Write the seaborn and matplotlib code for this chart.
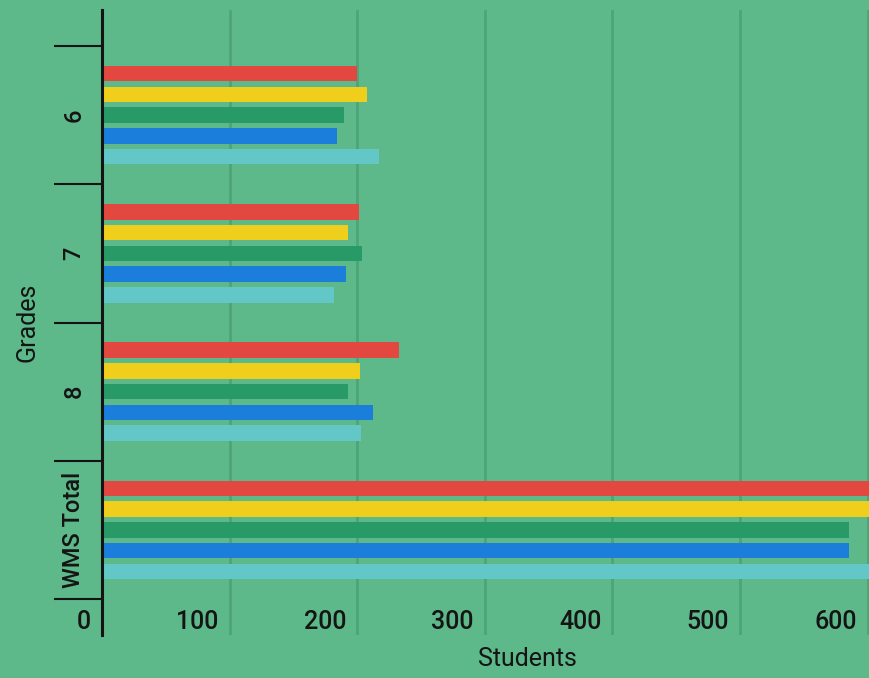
import matplotlib.pyplot as plt
import matplotlib.transforms as mtransforms
import pandas as pd
import seaborn as sns

# values
grades = ["6", "7", "8", "WMS Total"]
series = ["Series 1", "Series 2", "Series 3", "Series 4", "Series 5"]
red_vals = [200, 201, 233, 635]
yellow_vals = [208, 193, 202, 603]
green_vals = [190, 204, 193, 585]
blue_vals = [184, 191, 212, 585]
cyan_vals = [217, 182, 203, 603]
x_ticks = [0, 100, 200, 300, 400, 500, 600]

colors = ["#e2483f", "#f0cf1c", "#279a68", "#1b7edb", "#63c7c7"]
bg = "#5db88a"
ink = "#141414"

rows = []
for name, vals in zip(series, [red_vals, yellow_vals, green_vals, blue_vals, cyan_vals]):
    for g, v in zip(grades, vals):
        rows.append({"Grades": g, "Students": v, "series": name})
df = pd.DataFrame(rows)

sns.set_style("white")
plt.rcParams["font.family"] = ["Roboto", "DejaVu Sans"]

fig = plt.figure(figsize=(8.69, 6.78), dpi=100, facecolor=bg)
ax = fig.add_axes([102 / 869, 43 / 678, 767 / 869, 625 / 678])
ax.set_facecolor(bg)

sns.barplot(
    data=df,
    y="Grades",
    x="Students",
    hue="series",
    order=grades,
    hue_order=series,
    palette=colors,
    orient="h",
    width=0.75,
    gap=0.25,
    saturation=1,
    linewidth=0,
    legend=False,
    ax=ax,
)

ax.set_xlim(0, 601)
ax.set_ylim(3.76, -0.76)

ax.grid(axis="x", color="#4ea477", linewidth=2)
ax.grid(axis="y", visible=False)
ax.set_axisbelow(True)

for side in ["top", "right", "bottom"]:
    ax.spines[side].set_visible(False)
ax.spines["left"].set_color(ink)
ax.spines["left"].set_linewidth(2.2)

# y axis: labels at group centres, long ticks at group borders
ax.set_yticks(range(len(grades)))
ax.set_yticklabels(grades, rotation=90, va="center", ha="right",
                   fontsize=17, fontweight="medium", color=ink)
ax.set_yticks([i - 0.5 for i in range(len(grades) + 1)], minor=True)
ax.tick_params(axis="y", which="major", left=True, length=0, pad=12)
ax.tick_params(axis="y", which="minor", left=True, length=34.5, width=1.5, color=ink)

# x axis: labels sit inside the plot, just left of each grid line
ax.set_xticks(x_ticks)
ax.tick_params(axis="x", length=0, labelbottom=False)
shift = mtransforms.ScaledTranslation(-11 / 100, 0, fig.dpi_scale_trans)
trans = mtransforms.blended_transform_factory(ax.transData, ax.transAxes) + shift
for v in x_ticks:
    ax.text(v, 0.0096, str(v), transform=trans, ha="right", va="baseline",
            fontsize=18, fontweight="medium", color=ink)

ax.set_xlabel("Students", fontsize=18, color=ink)
ax.xaxis.set_label_coords(0.555, -0.019)
ax.set_ylabel("Grades", fontsize=18, color=ink)
ax.yaxis.set_label_coords(-0.082, 0.5)

fig.savefig("out.png", dpi=100, facecolor=bg)
